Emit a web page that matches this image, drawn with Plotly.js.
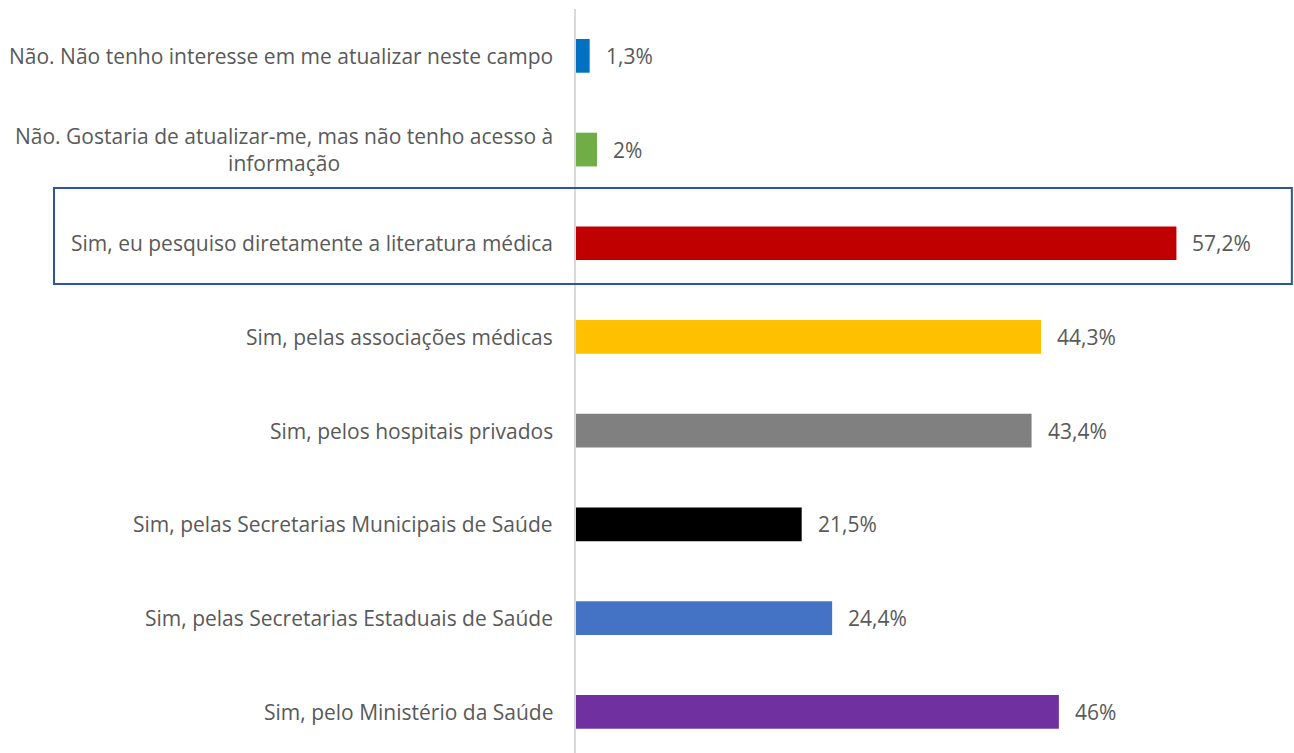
<!DOCTYPE html>
<html>
<head>
<meta charset="utf-8">
<script src="https://cdn.plot.ly/plotly-3.0.1.min.js"></script>
<style>html,body{margin:0;padding:0;background:#fff;}#chart{width:1294px;height:753px;}</style>
</head>
<body>
<div id="chart"></div>
<script>
const categories = [
  "Não. Não tenho interesse em me atualizar neste campo",
  "Não. Gostaria de atualizar-me, mas não tenho acesso à<br>informação",
  "Sim, eu pesquiso diretamente a literatura médica",
  "Sim, pelas associações médicas",
  "Sim, pelos hospitais privados",
  "Sim, pelas Secretarias Municipais de Saúde",
  "Sim, pelas Secretarias Estaduais de Saúde",
  "Sim, pelo Ministério da Saúde"
];
const values = [1.3, 2, 57.2, 44.3, 43.4, 21.5, 24.4, 46];
const valueLabels = ["1,3%", "2%", "57,2%", "44,3%", "43,4%", "21,5%", "24,4%", "46%"];
const colors = ["#0070C0", "#70AD47", "#C00000", "#FFC000", "#808080", "#000000", "#4472C4", "#7030A0"];

const FONT = "'Open Sans', sans-serif";
const GRAY = "#595959";
const ids = categories.map((c, i) => "c" + i);

const trace = {
  type: "bar",
  orientation: "h",
  x: values,
  y: ids,
  marker: { color: colors },
  width: 0.36,
  hoverinfo: "skip"
};

const annotations = [];
categories.forEach((c, i) => {
  annotations.push({
    xref: "paper", yref: "y", x: 0, y: ids[i],
    text: c, showarrow: false, xanchor: "right", yanchor: "middle",
    xshift: -21, align: "center",
    font: { family: FONT, size: 21, color: GRAY }
  });
  annotations.push({
    xref: "x", yref: "y", x: values[i], y: ids[i],
    text: valueLabels[i], showarrow: false, xanchor: "left", yanchor: "middle",
    xshift: 14,
    font: { family: FONT, size: 21, color: GRAY }
  });
});

const layout = {
  width: 1294, height: 753,
  margin: { l: 576, r: 0, t: 9, b: 0 },
  paper_bgcolor: "#fff", plot_bgcolor: "#fff",
  showlegend: false,
  xaxis: { range: [0, 68.4], visible: false, fixedrange: true },
  yaxis: {
    type: "category", range: [7.44, -0.5], showticklabels: false,
    showgrid: false, zeroline: false, showline: true, linecolor: "#D9D9D9", linewidth: 2,
    ticks: "", fixedrange: true
  },
  annotations: annotations,
  shapes: [{
    type: "rect", xref: "paper", yref: "paper",
    x0: -0.727, x1: 0.997, y0: 0.6304, y1: 0.7594,
    line: { color: "#2F5597", width: 2 }, fillcolor: "rgba(0,0,0,0)"
  }]
};

Plotly.newPlot("chart", [trace], layout, { displayModeBar: false, staticPlot: true });
</script>
</body>
</html>
